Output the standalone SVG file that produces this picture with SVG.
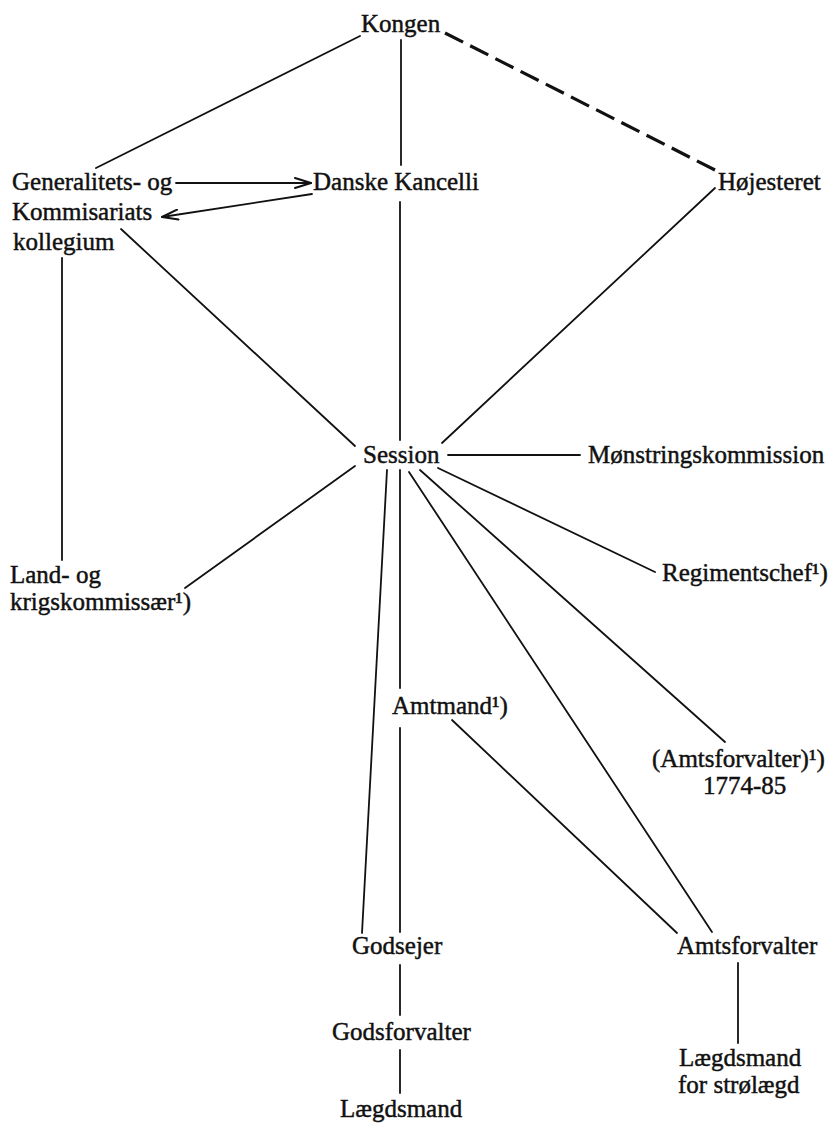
<svg xmlns="http://www.w3.org/2000/svg" width="832" height="1124" viewBox="0 0 832 1124">
  <defs>
    <style>
      .lbl { font-family: "Liberation Serif", "Times New Roman", serif; font-size: 25px; fill: #111; stroke: #111; stroke-width: 0.45; }
      .ln { stroke: #111; stroke-width: 1.8; fill: none; stroke-linecap: round; }
      .dash { stroke: #111; stroke-width: 3.2; fill: none; stroke-dasharray: 20.25 8; }
    </style>
    <marker id="open-arrow" viewBox="0 0 18 12" refX="17" refY="6" markerWidth="18" markerHeight="12" markerUnits="userSpaceOnUse" orient="auto">
      <path d="M1,1 L17,6 L1,11" fill="none" stroke="#111" stroke-width="2" stroke-linecap="round" stroke-linejoin="round"/>
    </marker>
  </defs>
  <rect width="832" height="1124" fill="#fff"/>

  <!-- connectors -->
  <g id="connectors">
    <line class="ln" x1="360" y1="36" x2="96" y2="168"/>
    <line class="ln" x1="401" y1="40" x2="401" y2="165"/>
    <line class="dash" x1="445" y1="33" x2="715" y2="170"/>
    <line class="ln" x1="176" y1="183" x2="311" y2="183" marker-end="url(#open-arrow)"/>
    <line class="ln" x1="312" y1="194" x2="162" y2="217" marker-end="url(#open-arrow)"/>
    <line class="ln" x1="400" y1="202" x2="400" y2="440"/>
    <line class="ln" x1="121" y1="229" x2="355" y2="446"/>
    <line class="ln" x1="715" y1="188" x2="442" y2="443"/>
    <line class="ln" x1="62" y1="258" x2="62" y2="560"/>
    <line class="ln" x1="185" y1="588" x2="355" y2="466"/>
    <line class="ln" x1="448" y1="455" x2="580" y2="455"/>
    <line class="ln" x1="438" y1="468" x2="655" y2="572"/>
    <line class="ln" x1="420" y1="470" x2="725" y2="742"/>
    <line class="ln" x1="409" y1="472" x2="712" y2="932"/>
    <line class="ln" x1="400" y1="470" x2="400" y2="688"/>
    <line class="ln" x1="400" y1="728" x2="400" y2="932"/>
    <line class="ln" x1="387" y1="470" x2="362" y2="933"/>
    <line class="ln" x1="452" y1="720" x2="677" y2="933"/>
    <line class="ln" x1="400" y1="965" x2="400" y2="1015"/>
    <line class="ln" x1="400" y1="1050" x2="400" y2="1093"/>
    <line class="ln" x1="738" y1="963" x2="738" y2="1043"/>
  </g>

  <!-- nodes -->
  <g id="kongen"><text class="lbl" x="361" y="32">Kongen</text></g>
  <g id="generalitets">
    <text class="lbl" x="12" y="190">Generalitets- og</text>
    <text class="lbl" x="12" y="220">Kommisariats</text>
    <text class="lbl" x="13" y="250">kollegium</text>
  </g>
  <g id="danske-kancelli"><text class="lbl" x="313" y="190">Danske Kancelli</text></g>
  <g id="hoejesteret"><text class="lbl" x="718" y="190">Højesteret</text></g>
  <g id="session"><text class="lbl" x="363" y="463">Session</text></g>
  <g id="moenstringskommission"><text class="lbl" x="588" y="463">Mønstringskommission</text></g>
  <g id="land-og-krigskommissaer">
    <text class="lbl" x="10" y="583">Land- og</text>
    <text class="lbl" x="10" y="610">krigskommissær¹)</text>
  </g>
  <g id="regimentschef"><text class="lbl" x="662" y="581">Regimentschef¹)</text></g>
  <g id="amtmand"><text class="lbl" x="392" y="714">Amtmand¹)</text></g>
  <g id="amtsforvalter-1774">
    <text class="lbl" x="652" y="767">(Amtsforvalter)¹)</text>
    <text class="lbl" x="703" y="794">1774-85</text>
  </g>
  <g id="godsejer"><text class="lbl" x="352" y="954">Godsejer</text></g>
  <g id="amtsforvalter"><text class="lbl" x="677" y="954">Amtsforvalter</text></g>
  <g id="godsforvalter"><text class="lbl" x="332" y="1040">Godsforvalter</text></g>
  <g id="laegdsmand"><text class="lbl" x="340" y="1117">Lægdsmand</text></g>
  <g id="laegdsmand-stroelaegd">
    <text class="lbl" x="679" y="1066">Lægdsmand</text>
    <text class="lbl" x="678" y="1093">for strølægd</text>
  </g>
</svg>
